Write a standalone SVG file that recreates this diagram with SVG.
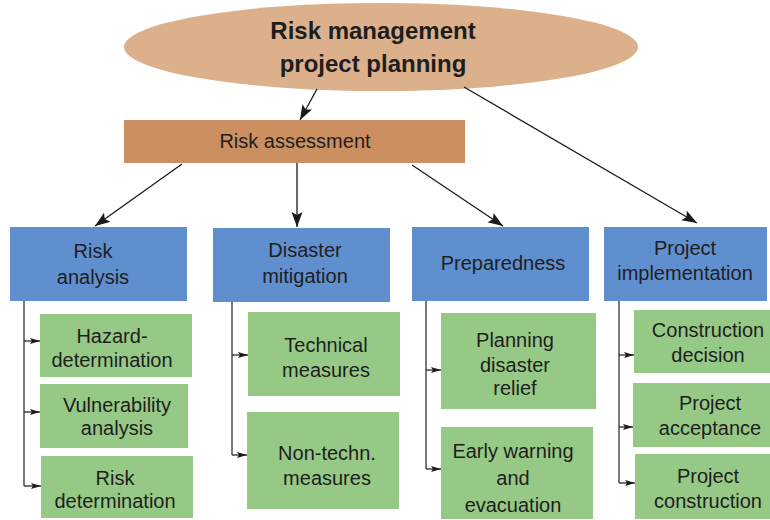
<svg xmlns="http://www.w3.org/2000/svg" width="770" height="520" viewBox="0 0 770 520">
<defs>
<marker id="big" markerUnits="userSpaceOnUse" markerWidth="16" markerHeight="12" refX="15" refY="5.5" orient="auto">
<path d="M0,0 L15,5.5 L0,11 L3,5.5 z" fill="#1a1a1a"/>
</marker>
<marker id="small" markerUnits="userSpaceOnUse" markerWidth="11" markerHeight="8" refX="10" refY="3" orient="auto">
<path d="M0,0 L10,3 L0,6 L2,3 z" fill="#1a1a1a"/>
</marker>
</defs>
<style>
text{font-family:"Liberation Sans",Arial,sans-serif;fill:#1e1e1e;text-anchor:middle;font-size:20px}
.title{font-weight:bold;font-size:24px}
.blue{fill:#5f8fcf}
.green{fill:#96c986}
.main{stroke:#1a1a1a;stroke-width:1.3;fill:none;marker-end:url(#big)}
.trunk{stroke:#7a7a7a;stroke-width:2;fill:none}
.twig{stroke:#1a1a1a;stroke-width:1.2;fill:none;marker-end:url(#small)}
</style>
<rect width="770" height="520" fill="#fff"/>

<g id="root">
<ellipse cx="381" cy="47" rx="257" ry="44" fill="#dcb08b"/>
<text class="title" x="373" y="39">Risk management</text>
<text class="title" x="373" y="72">project planning</text>
</g>

<g id="risk-assessment">
<rect x="124" y="120" width="341" height="43" fill="#cc8f5f"/>
<text x="295" y="148">Risk assessment</text>
</g>

<g id="risk-analysis">
<rect class="blue" x="10" y="227" width="177" height="74"/>
<text x="93" y="258">Risk</text>
<text x="93" y="284">analysis</text>
</g>
<g id="disaster-mitigation">
<rect class="blue" x="213" y="228" width="177" height="74"/>
<text x="305" y="257">Disaster</text>
<text x="305" y="283">mitigation</text>
</g>
<g id="preparedness">
<rect class="blue" x="412" y="227" width="177" height="74"/>
<text x="503" y="270">Preparedness</text>
</g>
<g id="project-implementation">
<rect class="blue" x="604" y="227" width="163" height="74"/>
<text x="685" y="255">Project</text>
<text x="685" y="280">implementation</text>
</g>

<g id="hazard-determination">
<rect class="green" x="40" y="314" width="152" height="63"/>
<text x="112" y="343">Hazard-</text>
<text x="112" y="367">determination</text>
</g>
<g id="vulnerability-analysis">
<rect class="green" x="40" y="384" width="148" height="64"/>
<text x="117" y="412">Vulnerability</text>
<text x="117" y="435">analysis</text>
</g>
<g id="risk-determination">
<rect class="green" x="41" y="456" width="152" height="62"/>
<text x="115" y="485">Risk</text>
<text x="115" y="508">determination</text>
</g>

<g id="technical-measures">
<rect class="green" x="248" y="312" width="152" height="84"/>
<text x="326" y="352">Technical</text>
<text x="326" y="377">measures</text>
</g>
<g id="non-technical-measures">
<rect class="green" x="247" y="412" width="152" height="97"/>
<text x="327" y="460">Non-techn.</text>
<text x="327" y="485">measures</text>
</g>

<g id="planning-disaster-relief">
<rect class="green" x="441" y="313" width="155" height="96"/>
<text x="515" y="347">Planning</text>
<text x="515" y="372">disaster</text>
<text x="515" y="395">relief</text>
</g>
<g id="early-warning">
<rect class="green" x="441" y="427" width="152" height="92"/>
<text x="513" y="458">Early warning</text>
<text x="513" y="485">and</text>
<text x="513" y="512">evacuation</text>
</g>

<g id="construction-decision">
<rect class="green" x="634" y="310" width="136" height="63"/>
<text x="708" y="337">Construction</text>
<text x="708" y="362">decision</text>
</g>
<g id="project-acceptance">
<rect class="green" x="633" y="383" width="137" height="64"/>
<text x="710" y="410">Project</text>
<text x="710" y="435">acceptance</text>
</g>
<g id="project-construction">
<rect class="green" x="635" y="454" width="135" height="65"/>
<text x="708" y="483">Project</text>
<text x="708" y="508">construction</text>
</g>

<g id="connectors">
<line class="main" x1="317" y1="89" x2="300" y2="120"/>
<line class="main" x1="464" y1="87" x2="697" y2="223"/>
<line class="main" x1="182" y1="164" x2="95" y2="226"/>
<line class="main" x1="297" y1="163" x2="297" y2="227"/>
<line class="main" x1="412" y1="165" x2="503" y2="226"/>

<path class="trunk" d="M24,301 V486"/>
<line class="twig" x1="24" y1="341" x2="40" y2="341"/>
<line class="twig" x1="24" y1="412" x2="40" y2="412"/>
<line class="twig" x1="24" y1="486" x2="41" y2="486"/>

<path class="trunk" d="M232,302 V455"/>
<line class="twig" x1="232" y1="355" x2="248" y2="355"/>
<line class="twig" x1="232" y1="455" x2="247" y2="455"/>

<path class="trunk" d="M426,301 V469"/>
<line class="twig" x1="426" y1="370" x2="441" y2="370"/>
<line class="twig" x1="426" y1="469" x2="441" y2="469"/>

<path class="trunk" d="M619,301 V483"/>
<line class="twig" x1="619" y1="355" x2="634" y2="355"/>
<line class="twig" x1="619" y1="427" x2="633" y2="427"/>
<line class="twig" x1="619" y1="483" x2="635" y2="483"/>
</g>
</svg>
